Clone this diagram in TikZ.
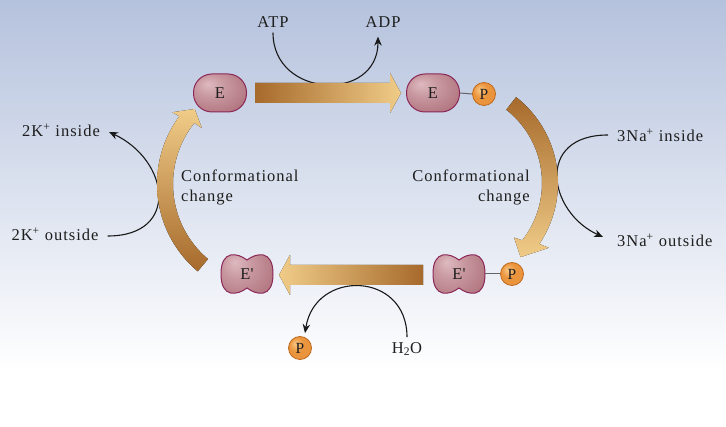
\documentclass[tikz,border=0pt]{standalone}
\usepackage{fontspec}
\setmainfont{Liberation Serif}[LetterSpace=6.0]
\newfontfamily\plainquote{Liberation Serif}[Ligatures=NoCommon,Mapping=]
\usetikzlibrary{arrows.meta,calc}
\definecolor{bgtop}{RGB}{181,194,221}
\definecolor{txt}{RGB}{30,30,30}
\definecolor{connc}{RGB}{25,25,25}
\definecolor{linkc}{RGB}{100,100,105}
\definecolor{pillhi}{RGB}{222,186,192}
\definecolor{pillmid}{RGB}{178,118,128}
\definecolor{pilldk}{RGB}{148,84,98}
\definecolor{pillborder}{RGB}{140,40,88}
\definecolor{phi}{RGB}{250,200,130}
\definecolor{pmid}{RGB}{234,148,62}
\definecolor{pdk}{RGB}{214,120,36}
\definecolor{pborder}{RGB}{190,105,28}
\definecolor{arrdark}{RGB}{166,106,44}
\definecolor{arrlight}{RGB}{240,204,136}
\pgfdeclareradialshading{pillsh}{\pgfpoint{-12bp}{12bp}}{color(0bp)=(pillhi); color(14bp)=(pillhi!50!pillmid); color(34bp)=(pillmid); color(62bp)=(pilldk)}
\pgfdeclareradialshading{psh}{\pgfpoint{-10bp}{10bp}}{color(0bp)=(phi); color(16bp)=(pmid); color(45bp)=(pmid); color(62bp)=(pdk)}
\begin{document}
\begin{tikzpicture}[x=1pt,y=-1pt,
  font=\fontsize{16.5}{20}\selectfont,
  lbl/.style={text=txt, inner sep=0pt},
  pill/.style={draw=pillborder, line width=1pt, shading=pillsh, rounded corners=18.5pt,
    minimum width=53pt, minimum height=38pt, inner sep=0pt, text=txt},
  peanutnode/.style={minimum width=52pt, minimum height=39pt, inner sep=0pt, text=txt},
  peanutpath/.style={draw=pillborder, line width=1pt, shading=pillsh},
  phos/.style={circle, draw=pborder, line width=0.8pt, shading=psh, minimum size=23pt,
    inner sep=0pt, text=txt, font=\fontsize{15.5}{15.5}\selectfont},
  conn/.style={line width=1.1pt, draw=connc, -{Stealth[length=9pt,width=7.5pt]}},
  link/.style={line width=1pt, draw=linkc}]
\useasboundingbox (0,0) rectangle (726,427);
% background
\fill[top color=bgtop, bottom color=white] (0,0) rectangle (726,372);
\fill[white] (0,372) rectangle (726,427);

% text labels
\node[lbl] (atp) at (273,22) {ATP};
\node[lbl] (adp) at (383,22) {ADP};
\node[lbl] (kin) at (61,130) {2K\textsuperscript{+} inside};
\node[lbl] (kout) at (55,234) {2K\textsuperscript{+} outside};
\node[lbl, anchor=west] (nain) at (617,135) {3Na\textsuperscript{+} inside};
\node[lbl, anchor=west] (naout) at (617,240) {3Na\textsuperscript{+} outside};
\node[lbl, anchor=west, align=left] (confL) at (181,187) {Conformational\\change};
\node[lbl, anchor=east, align=right] (confR) at (530,187) {Conformational\\change};
\node[lbl] (h2o) at (407,349) {H\textsubscript{2}O};
\node[phos] (pfree) at (300,348) {P};

% thin reaction connectors
\draw[conn] ($(atp.south)+(0,5)$) .. controls +(0,66) and +(0,66) .. ($(adp.south)+(-5,9)$);
\draw[conn] ($(kout.east)+(9,2)$) .. controls +(73,0) and +(60,28) .. ($(kin.east)+(9,2)$);
\draw[conn] ($(nain.west)+(-9,0)$) .. controls +(-73,0) and +(-55,-25) .. ($(naout.west)+(-14,-3)$);
\draw[conn] ($(h2o.north)+(0,-5)$) .. controls +(0,-66) and +(10,-64) .. ($(pfree.north)+(5,-3)$);

% straight big arrows
\fill[left color=arrdark, right color=arrlight]
  (255,83) -- (390,83) -- (390,73) -- (401,93) -- (390,113) -- (390,103) -- (255,103) -- cycle;
\fill[right color=arrdark, left color=arrlight]
  (423,265) -- (290,265) -- (290,255) -- (279,275) -- (290,295) -- (290,285) -- (423,285) -- cycle;

% curved big arrow, right (top -> bottom)
\fill[top color=arrdark, bottom color=arrlight]
  plot[domain=-52:34, samples=50] ({449+109*cos(\x)},{183+109*sin(\x)})
  -- ({449+119*cos(33)},{183+119*sin(33)})
  -- ({449+103*cos(46)},{183+103*sin(46)})
  -- ({449+85*cos(40)},{183+85*sin(40)})
  -- ({449+93*cos(38)},{183+93*sin(38)})
  -- plot[domain=38:-52, samples=50] ({449+93*cos(\x)},{183+93*sin(\x)})
  -- cycle;
% curved big arrow, left (bottom -> top)
\fill[top color=arrlight, bottom color=arrdark]
  plot[domain=130:216.5, samples=50] ({271+114*cos(\x)},{184+114*sin(\x)})
  -- ({271+122*cos(216)},{184+122*sin(216)})
  -- ({271+107*cos(224.5)},{184+107*sin(224.5)})
  -- ({271+89*cos(219)},{184+89*sin(219)})
  -- ({271+98*cos(218.5)},{184+98*sin(218.5)})
  -- plot[domain=218.5:130, samples=50] ({271+98*cos(\x)},{184+98*sin(\x)})
  -- cycle;

% enzymes
\node[pill] (e1) at (220,93) {E};
\node[pill] (e2) at (433,93) {E};
\node[phos] (p1) at (484,94) {P};
\draw[link] (e2.east) -- (p1.west);

\path[peanutpath, shift={(247,274)}]
  (0,-14) .. controls (-9,-21) and (-26,-25) .. (-26,0)
  .. controls (-26,25) and (-9,21) .. (0,14)
  .. controls (9,21) and (26,25) .. (26,0)
  .. controls (26,-25) and (9,-21) .. (0,-14) -- cycle;
\node[peanutnode] (ep1) at (247,274) {E{\plainquote '}};
\path[peanutpath, shift={(459,274)}]
  (0,-14) .. controls (-9,-21) and (-26,-25) .. (-26,0)
  .. controls (-26,25) and (-9,21) .. (0,14)
  .. controls (9,21) and (26,25) .. (26,0)
  .. controls (26,-25) and (9,-21) .. (0,-14) -- cycle;
\node[peanutnode] (ep2) at (459,274) {E{\plainquote '}};
\node[phos] (p2) at (512,274) {P};
\draw[link] (ep2.east) -- (p2.west);
\end{tikzpicture}
\end{document}
